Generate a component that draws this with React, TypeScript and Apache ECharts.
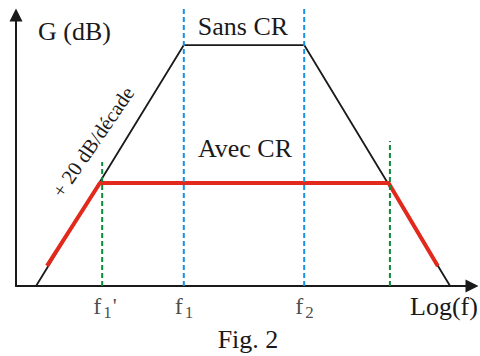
import React, { useEffect, useRef } from "react";
import * as echarts from "echarts";

// Asymptotic gain curves (x: log-frequency units 0..100, y: gain units 0..100)
const sansCR: number[][] = [[4.4, 0], [36.8, 88.9], [63.2, 88.9], [95.2, 0]];
const avecCR: number[][] = [[6.8, 7.4], [18.4, 38.0], [81.7, 38.0], [92.5, 7.4]];

// Cut-off frequencies (dashed verticals)
const cutoffSans: number[] = [36.8, 63.2];
const cutoffSansTop: number[] = [103.3, 103.3];
const cutoffAvec: number[] = [18.9, 82.0];
const cutoffAvecTop: number[] = [45.8, 53.5];

// Tick labels on the frequency axis
const tickPos: number[] = [18.9, 36.8, 63.2];
const tickMain: string[] = ["f", "f", "f"];
const tickSub: string[] = ["1", "1", "2"];
const tickPrime: string[] = ["'", "", ""];

const SERIF = "Liberation Serif, Tinos, Times New Roman, DejaVu Serif, serif";
const INK = "#1a1a1a";
const BLUE = "#1a90e0";
const GREEN = "#0d8a3a";
const RED = "#e2291b";

export default function App() {
  const ref = useRef<HTMLDivElement>(null);
  useEffect(() => {
    if (!ref.current) return;
    const chart = echarts.init(ref.current, undefined, { renderer: "svg" });
    const vline = (x: number, top: number, color: string) => ({
      type: "line",
      data: [[x, 0], [x, top]],
      symbol: "none",
      clip: false,
      silent: true,
      z: 5,
      lineStyle: { color, width: 2, type: [5, 3] },
    });
    const tickText = (texts: string[], dx: number, dy: number, size: number) => ({
      type: "scatter",
      data: tickPos
        .map((x, i) => ({ value: [x, 0], name: texts[i] }))
        .filter((d) => d.name !== ""),
      symbol: "circle",
      symbolSize: 1,
      clip: false,
      silent: true,
      z: 6,
      itemStyle: { color: "rgba(0,0,0,0)" },
      label: {
        show: true,
        formatter: "{b}",
        position: [dx, dy],
        align: "left",
        verticalAlign: "middle",
        fontFamily: SERIF,
        fontSize: size,
        color: INK,
      },
    });
    const series: any[] = [
      {
        type: "line",
        name: "Sans CR",
        data: sansCR,
        symbol: "none",
        clip: false,
        z: 2,
        lineStyle: { color: INK, width: 1.8 },
      },
      {
        type: "line",
        name: "Avec CR",
        data: avecCR,
        symbol: "none",
        clip: false,
        z: 3,
        lineStyle: { color: RED, width: 4 },
      },
      ...cutoffSans.map((x, i) => vline(x, cutoffSansTop[i], BLUE)),
      ...cutoffAvec.map((x, i) => vline(x, cutoffAvecTop[i], GREEN)),
      tickText(tickMain, -8.5, 20, 24),
      tickText(tickSub, 1.5, 27, 17),
      tickText(tickPrime, 11, 20, 22),
    ];
    const txt = (text: string, x: number, y: number, size: number, align: string, rotation = 0) => ({
      type: "text",
      x,
      y,
      rotation,
      style: { text, fontFamily: SERIF, fontSize: size, fill: INK, align, verticalAlign: "middle" },
    });
    chart.setOption({
      animation: false,
      backgroundColor: "#ffffff",
      textStyle: { fontFamily: SERIF },
      grid: { left: 16, right: 8, top: 15, bottom: 70 },
      xAxis: {
        type: "value",
        min: 0,
        max: 100,
        axisLine: {
          show: true,
          symbol: ["none", "triangle"],
          symbolSize: [13, 13],
          lineStyle: { color: INK, width: 2 },
        },
        axisTick: { show: false },
        axisLabel: { show: false },
        splitLine: { show: false },
      },
      yAxis: {
        type: "value",
        min: 0,
        max: 100,
        axisLine: {
          show: true,
          symbol: ["none", "triangle"],
          symbolSize: [13, 13],
          lineStyle: { color: INK, width: 2 },
        },
        axisTick: { show: false },
        axisLabel: { show: false },
        splitLine: { show: false },
      },
      graphic: [
        txt("G (dB)", 38, 31.5, 26, "left"),
        txt("Sans CR", 243, 26.5, 26, "center"),
        txt("Avec CR", 245, 148, 26, "center"),
        txt("+ 20 dB/décade", 93, 142, 20.5, "center", (55.6 * Math.PI) / 180),
        txt("Log(f)", 410, 306.5, 26, "left"),
        txt("Fig. 2", 248, 339, 26, "center"),
      ],
      series,
    });
    return () => chart.dispose();
  }, []);
  return <div ref={ref} style={{ position: "fixed", left: 0, top: 0, width: 480, height: 356 }} />;
}
